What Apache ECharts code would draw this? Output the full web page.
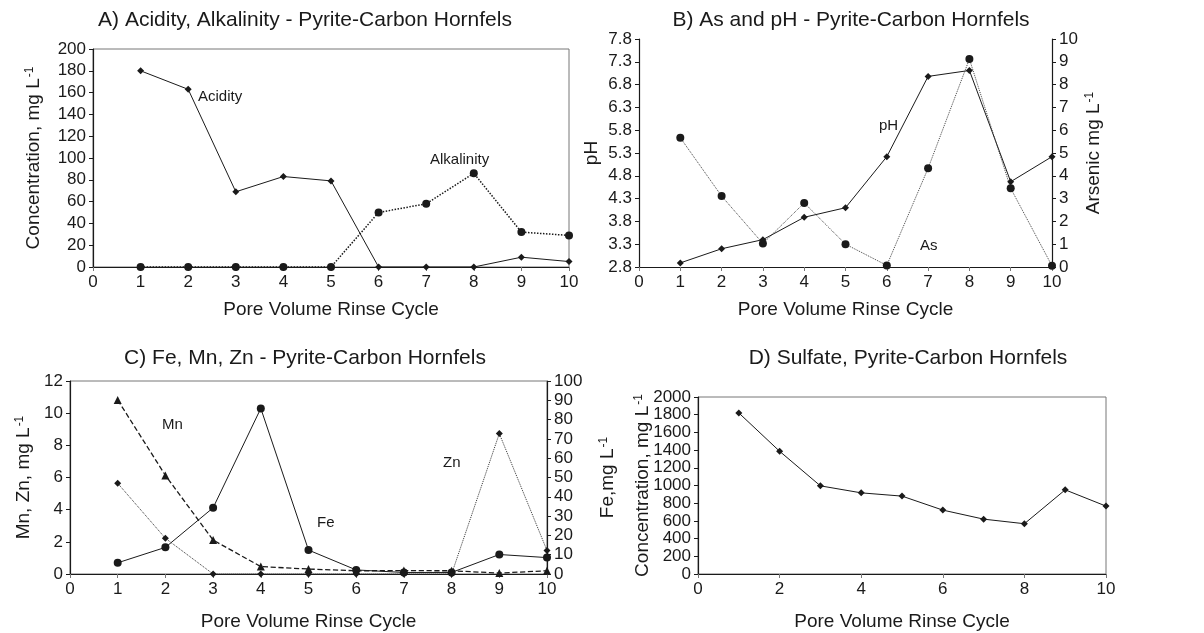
<!DOCTYPE html>
<html>
<head>
<meta charset="utf-8">
<script src="https://cdn.jsdelivr.net/npm/echarts@6/dist/echarts.min.js"></script>
<style>
  html, body { margin: 0; padding: 0; background: #fff; }
  #chart { width: 1204px; height: 633px; }
</style>
</head>
<body>
<div id="chart"></div>
<script>
// pore volume rinse cycles
var cycles = [1, 2, 3, 4, 5, 6, 7, 8, 9, 10];

// A) mg/L
var acidity = [180, 163, 69, 83, 79, 0, 0, 0, 9, 5];
var alkalinity = [0, 0, 0, 0, 0, 50, 58, 86, 32, 29];

// B) pH and arsenic mg/L
var pH = [2.89, 3.2, 3.4, 3.89, 4.1, 5.22, 6.98, 7.11, 4.67, 5.22];
var arsenic = [5.67, 3.11, 1.03, 2.81, 1.0, 0.07, 4.33, 9.12, 3.45, 0.05];
var phMin = 2.8;

// C) Fe on right axis, Mn and Zn on left axis
var fe = [5.8, 13.8, 34.3, 85.8, 12.4, 2.1, 0.8, 0.8, 10.1, 8.5];
var mn = [10.82, 6.13, 2.11, 0.46, 0.31, 0.2, 0.21, 0.2, 0.06, 0.2];
var zn = [5.64, 2.22, 0, 0, 0, 0, 0, 0, 8.73, 1.46];

// D) sulfate mg/L
var sulfate = [1820, 1387, 996, 917, 880, 722, 620, 568, 951, 767];

function pairs(vals, shift) {
    return cycles.map(function (c, i) { return [c, vals[i] - (shift || 0)]; });
}

var FONT = 'Liberation Sans, Arial, sans-serif';
var ink = '#1a1a1a';

function plain(v) { return String(v); }

function xAx(grid, interval) {
    return {
        type: 'value', gridIndex: grid, min: 0, max: 10, interval: interval,
        name: 'Pore Volume Rinse Cycle', nameLocation: 'middle',
        nameGap: grid < 2 ? 33 : 38,
        nameTextStyle: { fontFamily: FONT, fontSize: 19, color: ink },
        axisLine: { lineStyle: { color: ink, width: 1.2 } },
        axisTick: { length: 4, lineStyle: { color: '#777' } },
        axisLabel: { fontFamily: FONT, fontSize: 17, color: ink, margin: 7 },
        splitLine: { show: false }
    };
}

function yAx(grid, min, max, interval, name, gap, pos, fmt) {
    return {
        type: 'value', gridIndex: grid, min: min, max: max, interval: interval,
        position: pos || 'left',
        name: name, nameLocation: 'middle', nameGap: gap,
        nameTextStyle: {
            fontFamily: FONT, fontSize: 19, color: ink,
            rich: {
                n: { fontFamily: FONT, fontSize: 19, color: ink },
                s: { fontFamily: FONT, fontSize: 12, color: ink, verticalAlign: 'top', padding: [0, 0, 6, 1] }
            }
        },
        axisLine: { show: true, lineStyle: { color: ink, width: 1.2 } },
        axisTick: { show: true, length: 4, lineStyle: { color: ink } },
        axisLabel: { fontFamily: FONT, fontSize: 17, color: ink, margin: 7, formatter: fmt || plain },
        splitLine: { show: false }
    };
}

function line(name, x, y, vals, sym, size, type, width, color, shift) {
    return {
        name: name, type: 'line', xAxisIndex: x, yAxisIndex: y,
        data: pairs(vals, shift),
        symbol: sym, symbolSize: size, showSymbol: true,
        itemStyle: { color: ink },
        lineStyle: { color: color || ink, width: width, type: type },
        animation: false, silent: true
    };
}

function txt(x, y, t, size, align) {
    return {
        type: 'text', left: x, top: y,
        style: { text: t, font: (size || 15) + 'px ' + FONT, fill: ink, textAlign: align || 'left', textVerticalAlign: 'middle' }
    };
}

var sulfateAxis = yAx(3, 0, 2000, 200, '{n|Concentration, mg L}{s|-1}', 46);
sulfateAxis.nameMoveOverlap = false;

var myChart = echarts.init(document.getElementById('chart'));
myChart.setOption({
    backgroundColor: '#fff',
    animation: false,
    title: [
        { text: 'A) Acidity, Alkalinity - Pyrite-Carbon Hornfels', left: 300, top: 5, textAlign: 'center',
          textStyle: { fontFamily: FONT, fontSize: 21, fontWeight: 'normal', color: ink } },
        { text: 'B) As and pH - Pyrite-Carbon Hornfels', left: 846, top: 5, textAlign: 'center',
          textStyle: { fontFamily: FONT, fontSize: 21, fontWeight: 'normal', color: ink } },
        { text: 'C) Fe, Mn, Zn - Pyrite-Carbon Hornfels', left: 300, top: 343, textAlign: 'center',
          textStyle: { fontFamily: FONT, fontSize: 21, fontWeight: 'normal', color: ink } },
        { text: 'D) Sulfate, Pyrite-Carbon Hornfels', left: 903, top: 343, textAlign: 'center',
          textStyle: { fontFamily: FONT, fontSize: 21, fontWeight: 'normal', color: ink } }
    ],
    grid: [
        { left: 93, top: 49, width: 476, height: 218, show: true, borderColor: '#777', borderWidth: 1 },
        { left: 639, top: 39, width: 413, height: 228 },
        { left: 70, top: 381, width: 477, height: 193, show: true, borderColor: '#777', borderWidth: 1 },
        { left: 698, top: 397, width: 408, height: 177, show: true, borderColor: '#777', borderWidth: 1 }
    ],
    xAxis: [xAx(0, 1), xAx(1, 1), xAx(2, 1), xAx(3, 2)],
    yAxis: [
        yAx(0, 0, 200, 20, '{n|Concentration, mg L}{s|-1}', 50),
        yAx(1, 0, 5, 0.5, 'pH', 38, 'left', function (v) { return (v + phMin).toFixed(1); }),
        yAx(1, 0, 10, 1, '{n|Arsenic mg L}{s|-1}', 32, 'right'),
        yAx(2, 0, 12, 2, '{n|Mn, Zn, mg L}{s|-1}', 37),
        yAx(2, 0, 100, 10, '{n|Fe,mg L}{s|-1}', 51, 'right'),
        sulfateAxis
    ],
    series: [
        line('Acidity', 0, 0, acidity, 'diamond', 7, 'solid', 1),
        line('Alkalinity', 0, 0, alkalinity, 'circle', 8, 'dotted', 1.5),
        line('pH', 1, 1, pH, 'diamond', 7, 'solid', 1, ink, phMin),
        line('As', 1, 2, arsenic, 'circle', 8, 'dotted', 1, '#444'),
        line('Fe', 2, 4, fe, 'circle', 8, 'solid', 1),
        line('Mn', 2, 3, mn, 'triangle', 8, 'dashed', 1.3),
        line('Zn', 2, 3, zn, 'diamond', 7, 'dotted', 1, '#333'),
        line('Sulfate', 3, 5, sulfate, 'diamond', 7, 'solid', 1)
    ],
    graphic: [
        txt(198, 89, 'Acidity'),
        txt(430, 152, 'Alkalinity'),
        txt(879, 118, 'pH'),
        txt(920, 238, 'As'),
        txt(162, 417, 'Mn'),
        txt(317, 515, 'Fe'),
        txt(443, 455, 'Zn')
    ]
});

window.addEventListener('resize', function () {
    myChart.resize();
});
</script>
</body>
</html>
